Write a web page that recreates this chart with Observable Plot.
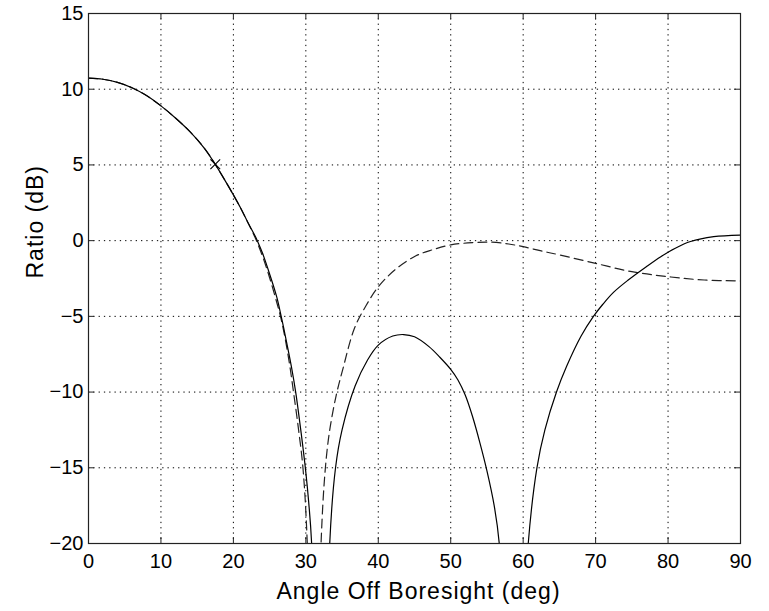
<!DOCTYPE html>
<html><head><meta charset="utf-8">
<script src="https://cdn.jsdelivr.net/npm/d3@7"></script>
<script src="https://cdn.jsdelivr.net/npm/@observablehq/plot@0.6"></script>
<style>
body{margin:0;background:#fff;}
</style></head><body><div id="chart"></div>
<script>
const xTicks = [0,10,20,30,40,50,60,70,80,90];
const yTicks = [-20,-15,-10,-5,0,5,10,15];
const xLabel = "Angle Off Boresight (deg)";
const yLabel = "Ratio (dB)";

const solidAngle = [0,2,4,6,8,10,12,14,16,17.5,19,20,21,22,23,23.3,24,25,26,26.6,27,28,28.6,29.3,30,30.4,30.8,31.8,32.6,33.3,34.1,35,36.8,38.5,40,42,43.5,45,47,48.5,50,51,52,53,54,55,56,56.7,58.7,60.7,61.9,63,64.6,66,68,69.7,71,72.5,74.5,77,79,81,83.1,86.3,90];
const solidDb = [10.73,10.66,10.45,10.1,9.58,8.9,8.1,7.2,6.1,5.04,3.85,3.02,2.15,1.2,0.3,0,-0.8,-2.2,-3.75,-5,-5.9,-8.3,-10,-12.5,-15.3,-17.3,-20,-40,-40,-20,-15,-12.5,-9.6,-7.9,-6.9,-6.3,-6.2,-6.35,-7.0,-7.7,-8.5,-9.2,-10.2,-11.6,-13.3,-15.2,-17.5,-20,-40,-20,-15,-12.5,-10,-8.3,-6.3,-5,-4.2,-3.4,-2.6,-1.72,-1.06,-0.5,-0.06,0.26,0.37];

const dashedAngle = [0,2,4,6,8,10,12,14,16,17.5,19,20,21,22,23,24,25,26,26.5,27,27.7,28.3,29,29.6,30.2,31.2,32.1,32.7,33.3,34.2,35.1,36.7,38.3,40,42.4,45.2,47.5,50,53,55.5,58,60,62.5,65,70,75,80,85,90];
const dashedDb = [10.73,10.66,10.45,10.1,9.58,8.9,8.1,7.2,6.1,5.04,3.85,3.02,2.15,1.2,0.2,-1.0,-2.45,-4.1,-5,-6.1,-8,-10,-12.5,-15,-20,-40,-20,-15,-12.5,-10.2,-8.5,-5.8,-4.3,-3.05,-1.89,-1.0,-0.6,-0.28,-0.13,-0.1,-0.22,-0.4,-0.68,-0.94,-1.5,-2.05,-2.38,-2.6,-2.66];

const markerAngle = [17.5];
const markerDb = [5.04];

const W = 769, H = 611, mL = 88, mR = 29, mT = 13, mB = 68;
const innerW = W - mL - mR, innerH = H - mT - mB;

const solid = solidAngle.map((a, i) => ({a, v: solidDb[i]}));
const dashed = dashedAngle.map((a, i) => ({a, v: dashedDb[i]}));
const marker = markerAngle.map((a, i) => ({a, v: markerDb[i]}));

const font = "'Liberation Sans', Arial, Helvetica, sans-serif";

const plot = Plot.plot({
  width: W, height: H,
  marginLeft: mL, marginRight: mR, marginTop: mT, marginBottom: mB,
  style: {fontFamily: font, background: "#fff", color: "#000", overflow: "visible"},
  x: {domain: [0, 90], label: null},
  y: {domain: [-20, 15], label: null},
  marks: [
    Plot.ruleX(xTicks, {x: d => d, stroke: "#000", strokeWidth: 1, strokeDasharray: "1.3,4"}),
    Plot.ruleY(yTicks, {y: d => d, stroke: "#000", strokeWidth: 1, strokeDasharray: "1.3,4"}),
    Plot.line(dashed, {x: "a", y: "v", stroke: "#222", strokeWidth: 1.2, strokeDasharray: "9,5", curve: "catmull-rom", clip: true}),
    Plot.line(solid, {x: "a", y: "v", stroke: "#000", strokeWidth: 1.2, curve: "catmull-rom", clip: true}),
    Plot.dot(marker, {x: "a", y: "v", symbol: "times", r: 4.5, stroke: "#000", strokeWidth: 1.1}),
    Plot.frame({stroke: "#222", strokeWidth: 1.2}),
    Plot.tickX(xTicks, {x: d => d, insetTop: innerH - 6, stroke: "#222"}),
    Plot.tickX(xTicks, {x: d => d, insetBottom: innerH - 6, stroke: "#222"}),
    Plot.tickY(yTicks, {y: d => d, insetRight: innerW - 6, stroke: "#222"}),
    Plot.tickY(yTicks, {y: d => d, insetLeft: innerW - 6, stroke: "#222"}),
    Plot.axisX(xTicks, {anchor: "bottom", tickSize: 0, tickPadding: 10, fontSize: 20, label: null}),
    Plot.axisY(yTicks, {anchor: "left", tickSize: 0, tickPadding: 5, fontSize: 20, label: null}),
    Plot.text([xLabel], {frameAnchor: "bottom", dy: 48, dx: 4, lineAnchor: "middle", fontSize: 23, fill: "#000"}),
    Plot.text([yLabel], {frameAnchor: "left", dx: -53, rotate: -90, lineAnchor: "middle", fontSize: 23, fill: "#000"})
  ]
});
document.getElementById("chart").appendChild(plot);
d3.select(plot).selectAll("text").filter(function(){ return this.textContent === xLabel || this.textContent === yLabel; })
  .style("letter-spacing", "1px");
</script>
</body></html>
